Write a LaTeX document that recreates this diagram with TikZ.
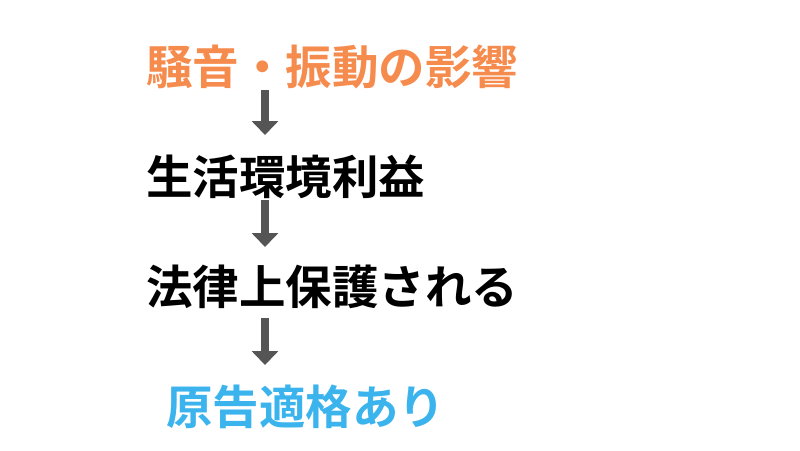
\documentclass[tikz,border=0pt]{standalone}
\usepackage{fontspec}
\newfontfamily\cjk{Noto Sans CJK JP Bold}
\usetikzlibrary{arrows.meta}
\definecolor{noiseorange}{HTML}{F68B4E}
\definecolor{resultblue}{HTML}{3BB3EC}
\definecolor{arrowgray}{HTML}{555555}
\begin{document}
\begin{tikzpicture}[x=1pt, y=-1pt,
  step text/.style = {anchor=west, inner sep=0pt, font=\cjk\fontsize{46.5}{54}\selectfont},
  down arrow/.style = {draw=arrowgray, line width=8pt, -{Triangle[width=26pt, length=14pt]}}]
\useasboundingbox (0,0) rectangle (800,450);
\node[step text, text=noiseorange] (1) at (146,67) {騒音・振動の影響};
\node[step text] (2) at (146,177) {生活環境利益};
\node[step text] (3) at (146,287) {法律上保護される};
\node[step text, text=resultblue] (4) at (166,407) {原告適格あり};
\draw[down arrow] (265,90) -- (265,135);
\draw[down arrow] (265,200) -- (265,247);
\draw[down arrow] (265,318) -- (265,365);
\end{tikzpicture}
\end{document}
